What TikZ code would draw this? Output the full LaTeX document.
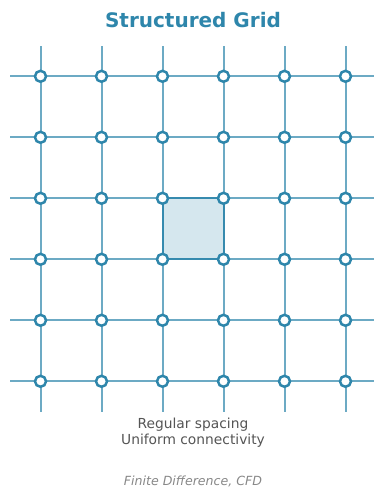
\documentclass[tikz,border=0pt]{standalone}
\usepackage{fontspec}
\setmainfont{DejaVu Sans}
\definecolor{teal1}{HTML}{2E86AB}
\definecolor{txtgray}{HTML}{555555}
\definecolor{ltgray}{HTML}{888888}
\begin{document}
\begin{tikzpicture}[x=1pt,y=-1pt,
  gridline/.style={draw=teal1,draw opacity=0.7,line width=2pt},
  gnode/.style={circle,draw=teal1,fill=white,line width=2.5pt,minimum size=11pt,inner sep=0pt},
  cell/.style={fill=teal1,fill opacity=0.2,draw=teal1,draw opacity=0.85,line width=2pt}]
\useasboundingbox (0,0) rectangle (373,488);
\node[font=\bfseries\fontsize{20}{24}\selectfont,text=teal1] (title) at (193,20) {Structured Grid};
% highlighted cell
\path[cell] (162.5,198.3) rectangle (223.5,259.3);
% grid lines
\foreach \i in {0,...,5}{
  \draw[gridline] (10,{76.3+61*\i}) -- (376,{76.3+61*\i});
  \draw[gridline] ({40.5+61*\i},46) -- ({40.5+61*\i},411.5);
}
% nodes
\foreach \i in {0,...,5}{
  \foreach \j in {0,...,5}{
    \node[gnode] (n\i\j) at ({40.5+61*\i},{76.3+61*\j}) {};
  }
}
\node[font=\fontsize{13.8}{15.8}\selectfont,text=txtgray,align=center] (desc) at (193,432.5) {Regular spacing\\Uniform connectivity};
\node[font=\itshape\fontsize{12.6}{15}\selectfont,text=ltgray] (use) at (193,481) {Finite Difference, CFD};
\end{tikzpicture}
\end{document}
